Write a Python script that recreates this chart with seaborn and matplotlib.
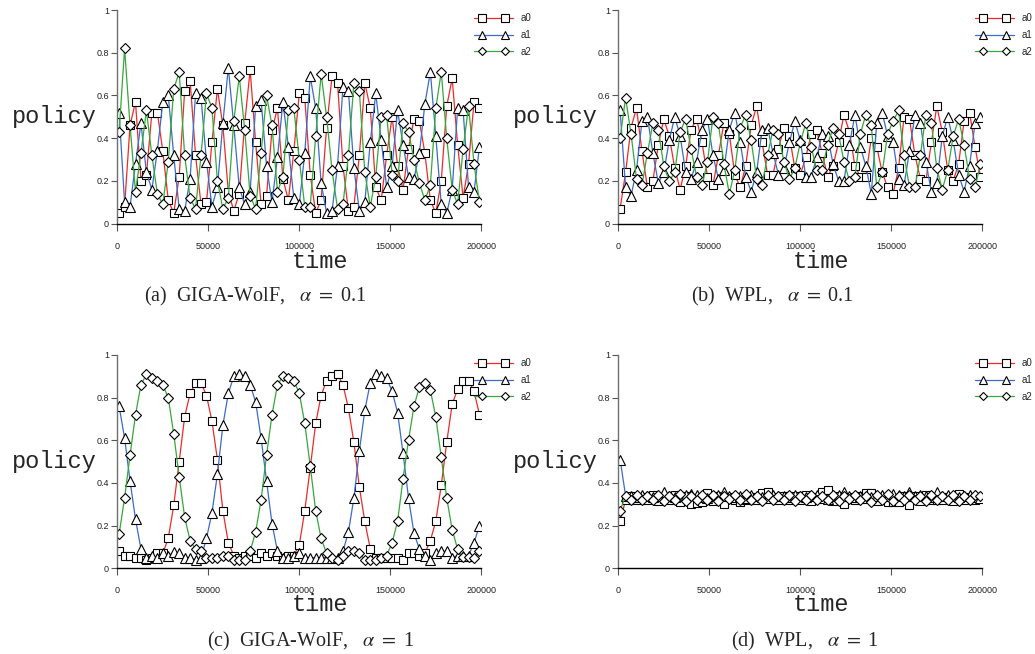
import numpy as np
import pandas as pd
import seaborn as sns
import matplotlib.pyplot as plt
from matplotlib.lines import Line2D
from matplotlib.legend_handler import HandlerLine2D

# policy recorded every 3000 steps, starting at step 1000
sample_time = np.arange(1000, 200000, 3000)

action_names = ["a0", "a1", "a2"]

# (a) GIGA-WolF, alpha = 0.1
giga01_a0 = [.05, .08, .46, .57, .20, .23, .52, .52, .34, .11, .05, .22, .62, .67, .32, .09, .10, .38, .63, .46,
             .15, .06, .14, .47, .72, .38, .09, .13, .44, .54, .21, .11, .34, .61, .59, .23, .05, .11, .45, .69,
             .66, .27, .06, .08, .32, .66, .54, .17, .11, .32, .50, .27, .16, .35, .49, .48, .33, .11, .05, .20,
             .55, .68, .37, .12, .28, .57, .54]
giga01_a1 = [.52, .10, .08, .28, .47, .24, .16, .34, .57, .60, .32, .07, .06, .21, .61, .59, .29, .08, .17, .47,
             .73, .46, .17, .09, .15, .55, .58, .27, .10, .31, .57, .36, .12, .09, .33, .69, .54, .19, .05, .06,
             .27, .64, .62, .26, .06, .10, .38, .61, .39, .17, .27, .53, .37, .22, .21, .33, .56, .71, .41, .09,
             .05, .16, .54, .53, .17, .15, .36]
giga01_a2 = [.43, .82, .46, .15, .33, .53, .32, .14, .09, .29, .63, .71, .32, .12, .07, .32, .61, .54, .20, .07,
             .12, .48, .69, .44, .13, .07, .33, .60, .46, .15, .22, .53, .54, .30, .08, .08, .41, .70, .50, .25,
             .07, .09, .32, .66, .62, .24, .08, .22, .50, .51, .23, .20, .47, .43, .30, .19, .11, .18, .54, .71,
             .40, .16, .09, .35, .55, .28, .10]

# (b) WPL, alpha = 0.1
wpl01_a0 = [.07, .24, .45, .54, .34, .17, .20, .37, .49, .41, .26, .16, .27, .44, .49, .38, .22, .18, .32, .47,
            .42, .23, .17, .27, .46, .55, .38, .23, .23, .35, .45, .41, .26, .23, .31, .42, .44, .33, .22, .27,
            .38, .51, .43, .27, .22, .22, .40, .36, .24, .17, .14, .26, .50, .49, .32, .21, .20, .38, .55, .43,
            .25, .20, .28, .48, .52, .36, .22]
wpl01_a1 = [.53, .17, .13, .25, .48, .50, .33, .19, .24, .39, .50, .41, .24, .21, .29, .44, .49, .32, .21, .25,
            .44, .52, .38, .22, .15, .24, .44, .45, .33, .23, .26, .38, .48, .39, .22, .22, .31, .42, .41, .28,
            .20, .20, .37, .51, .36, .27, .14, .47, .52, .41, .38, .21, .18, .34, .51, .47, .29, .15, .19, .41,
            .50, .39, .23, .15, .27, .47, .50]
wpl01_a2 = [.40, .59, .42, .21, .18, .33, .47, .44, .27, .20, .24, .43, .49, .35, .22, .18, .29, .50, .47, .28,
            .14, .25, .45, .51, .39, .21, .18, .32, .44, .42, .29, .21, .26, .38, .47, .36, .25, .25, .37, .45,
            .42, .29, .20, .22, .42, .51, .46, .17, .24, .42, .48, .53, .32, .17, .17, .32, .51, .47, .26, .16,
            .25, .41, .49, .37, .21, .17, .28]

# (c) GIGA-WolF, alpha = 1
giga1_a0 = [.08, .06, .06, .05, .05, .04, .05, .07, .07, .14, .295, .50, .71, .82, .87, .87, .81, .69, .51, .27,
            .12, .06, .05, .06, .06, .05, .07, .06, .07, .06, .05, .06, .06, .11, .27, .47, .68, .81, .88, .90,
            .91, .86, .75, .59, .38, .22, .09, .05, .05, .05, .05, .05, .04, .07, .07, .06, .07, .13, .22, .39,
            .59, .77, .84, .88, .88, .83, .72]
giga1_a1 = [.76, .61, .41, .23, .09, .05, .06, .05, .07, .06, .075, .07, .05, .05, .04, .05, .14, .26, .44, .67,
            .82, .90, .91, .90, .86, .78, .61, .41, .21, .08, .05, .05, .06, .07, .05, .05, .05, .05, .05, .05,
            .05, .08, .17, .33, .55, .74, .87, .91, .90, .89, .83, .73, .54, .33, .165, .09, .06, .04, .07, .08,
            .08, .05, .06, .06, .06, .12, .20]
giga1_a2 = [.16, .33, .53, .72, .86, .91, .89, .88, .86, .80, .63, .43, .24, .13, .09, .08, .05, .05, .05, .06,
            .06, .04, .04, .04, .08, .17, .32, .53, .72, .86, .90, .89, .88, .82, .68, .48, .27, .14, .07, .05,
            .04, .06, .08, .08, .07, .04, .04, .04, .05, .06, .12, .22, .42, .60, .76, .85, .87, .835, .71, .52,
            .33, .18, .09, .055, .055, .05, .08]

# (d) WPL, alpha = 1
wpl1_a0 = [.22, .32, .34, .32, .335, .32, .345, .315, .325, .32, .345, .31, .34, .30, .305, .31, .355, .315, .34, .30,
           .335, .32, .31, .32, .335, .32, .355, .36, .335, .32, .34, .32, .34, .32, .345, .315, .335, .36, .365, .315,
           .34, .30, .335, .32, .34, .355, .355, .315, .335, .31, .31, .31, .34, .295, .34, .315, .345, .32, .32, .32,
           .335, .315, .35, .32, .335, .32, .33]
wpl1_a1 = [.51, .34, .34, .335, .345, .34, .335, .34, .36, .34, .335, .34, .345, .35, .345, .335, .33, .34, .345, .36,
           .34, .335, .34, .33, .345, .34, .335, .33, .345, .34, .34, .335, .345, .34, .335, .34, .345, .33, .325, .34,
           .345, .36, .34, .335, .34, .33, .335, .34, .345, .34, .35, .345, .34, .36, .34, .345, .34, .335, .36, .34,
           .345, .34, .335, .34, .345, .335, .33]
wpl1_a2 = [.27, .34, .32, .345, .32, .34, .32, .345, .315, .34, .32, .35, .315, .34, .32, .345, .32, .345, .315, .34,
           .325, .345, .32, .35, .32, .34, .315, .345, .32, .34, .32, .345, .315, .34, .32, .345, .32, .34, .32, .345,
           .315, .34, .325, .345, .32, .34, .31, .345, .32, .35, .315, .34, .32, .345, .32, .34, .315, .345, .32, .34,
           .32, .345, .315, .34, .32, .345, .34]

captions = [("(a)", "GIGA-WolF,", "0.1"), ("(b)", "WPL,", "0.1"),
            ("(c)", "GIGA-WolF,", "1"), ("(d)", "WPL,", "1")]

x_tick_values = [0, 50000, 100000, 150000, 200000]
x_tick_labels = ["0", "50000", "100000", "150000", "200000"]
y_tick_values = [0, 0.2, 0.4, 0.6, 0.8, 1]
y_tick_labels = ["0", "0.2", "0.4", "0.6", "0.8", "1"]

line_colors = {"a0": "#ee2a2a", "a1": "#3a6cc8", "a2": "#35a83a"}
marker_map = {"a0": "s", "a1": "^", "a2": "D"}
marker_size = {"a0": 6.0, "a1": 6.8, "a2": 5.0}


class EndMarkers(HandlerLine2D):
    # legend sample: a short line with one marker near each end
    def create_artists(self, *args, **kwargs):
        artists = super().create_artists(*args, **kwargs)
        for a in artists:
            a.set_markevery([1, 4])
        return artists


sns.set_style("ticks")
plt.rcParams["font.family"] = ["Liberation Sans", "DejaVu Sans"]
plt.rcParams["mathtext.fontset"] = "stix"

fig = plt.figure(figsize=(10.35, 6.54), dpi=100)
W, H = 1035, 654


def add_px_axes(left, top, right, bottom):
    return fig.add_axes([left / W, 1 - bottom / H, (right - left) / W, (bottom - top) / H])


boxes = [(117.3, 10, 481.3, 223.7), (618.3, 10, 982.3, 223.7),
         (117.3, 355, 481.3, 568.3), (618.3, 355, 982.3, 568.3)]
panel_series = [(giga01_a0, giga01_a1, giga01_a2), (wpl01_a0, wpl01_a1, wpl01_a2),
                (giga1_a0, giga1_a1, giga1_a2), (wpl1_a0, wpl1_a1, wpl1_a2)]
caption_pos = [(255, 296), (772, 296), (311, 641), (805, 641)]
time_label_y = [-0.179, -0.179, -0.172, -0.172]

for box, series, cap, cpos, ty in zip(boxes, panel_series, captions, caption_pos, time_label_y):
    ax = add_px_axes(*box)
    n = len(sample_time)
    df = pd.DataFrame({
        "time": np.tile(sample_time, 3),
        "policy": np.concatenate(series),
        "action": np.repeat(action_names, n),
    })
    sns.lineplot(data=df, x="time", y="policy", hue="action", style="action",
                 palette=line_colors, markers=marker_map, dashes=False,
                 errorbar=None, legend=False, ax=ax, lw=0.9,
                 mfc="white", mec="black", mew=0.8)
    for line, name in zip(ax.lines, action_names):
        line.set_markersize(marker_size[name])

    ax.set_xlim(0, 200000)
    ax.set_ylim(0, 1)
    ax.set_xticks(x_tick_values)
    ax.set_xticklabels(x_tick_labels)
    ax.set_yticks(y_tick_values)
    ax.set_yticklabels(y_tick_labels)
    ax.set_xlabel("")
    ax.set_ylabel("")
    sns.despine(ax=ax)
    for side in ["left", "bottom"]:
        ax.spines[side].set_linewidth(1.0)
    ax.spines["left"].set_color("#707070")
    ax.spines["bottom"].set_color("black")
    ax.tick_params(axis="y", direction="out", length=4, width=0.8, pad=2,
                   labelsize=6.5, color="#555555", labelcolor="#222222")
    ax.tick_params(axis="x", direction="out", length=5, width=0.8, pad=8,
                   labelsize=6.5, color="#555555", labelcolor="#222222")

    ax.text(-0.056, 0.5, "policy", transform=ax.transAxes, ha="right", va="center",
            family="Liberation Mono", fontsize=17)
    ax.text(0.557, ty, "time", transform=ax.transAxes, ha="center", va="center",
            family="Liberation Mono", fontsize=17)

    handles = [Line2D([], [], color=line_colors[a], marker=marker_map[a],
                      markersize=marker_size[a] * 0.9, mfc="white", mec="black",
                      mew=0.8, lw=0.9) for a in action_names]
    ax.legend(handles, action_names, loc="upper left", bbox_to_anchor=(0.972, 0.985),
              frameon=False, numpoints=6, handlelength=4.6, handletextpad=0.5,
              labelspacing=0.7, borderpad=0, borderaxespad=0, fontsize=7,
              handler_map={Line2D: EndMarkers()})

    tag, method, alpha_value = cap
    fig.text(cpos[0] / W, 1 - cpos[1] / H,
             tag + "  " + method + r"   $\alpha$ $=$ " + alpha_value,
             ha="center", va="center", family="Liberation Serif", fontsize=14.5)

fig.savefig("out.png", dpi=100)
